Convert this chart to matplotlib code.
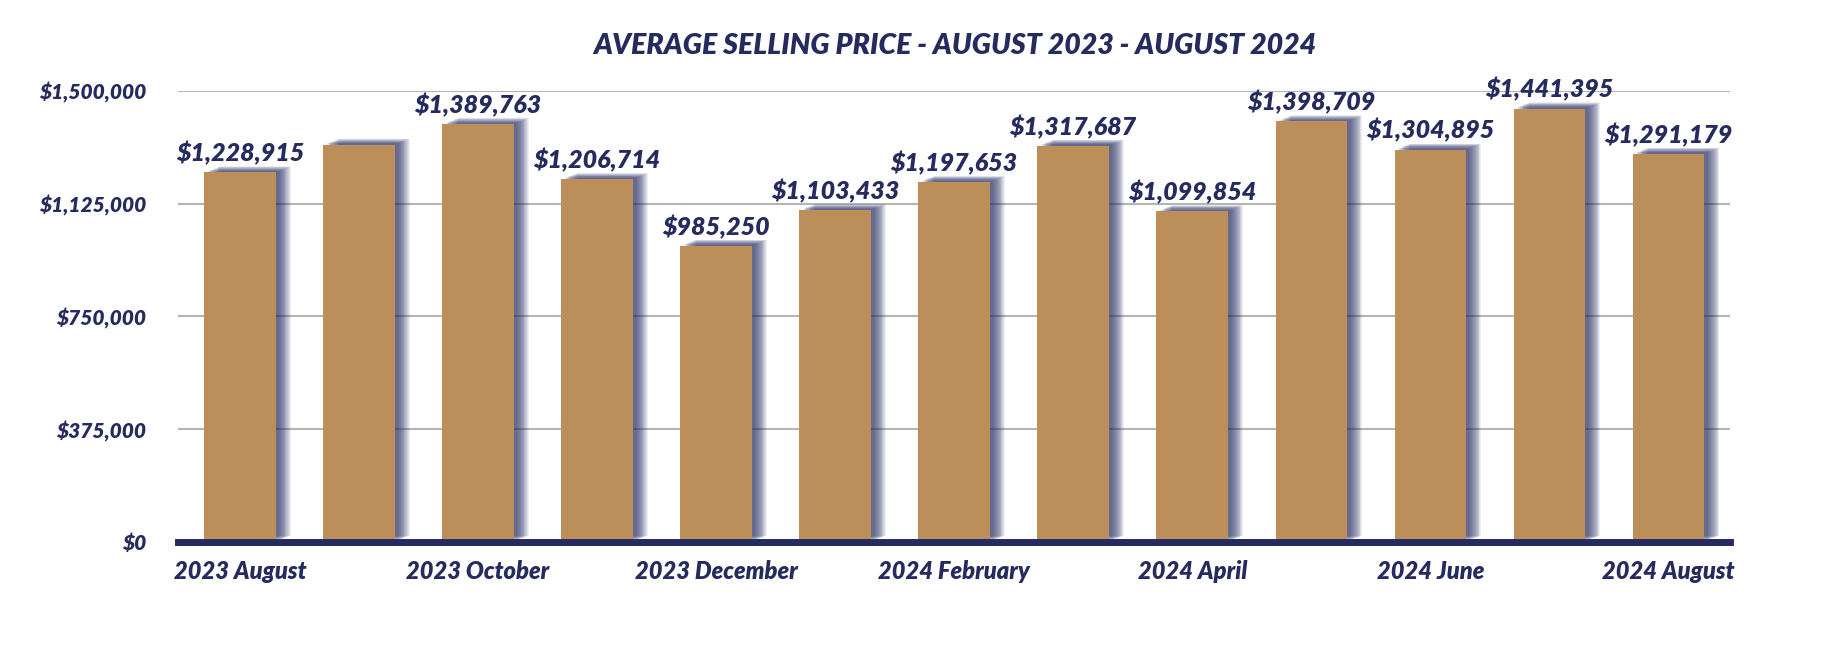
import numpy as np
import matplotlib
matplotlib.use("Agg")
import matplotlib.pyplot as plt
import matplotlib.patheffects as pe
from matplotlib.ticker import FuncFormatter

months = ["2023 August", "2023 September", "2023 October", "2023 November",
          "2023 December", "2024 January", "2024 February", "2024 March",
          "2024 April", "2024 May", "2024 June", "2024 July", "2024 August"]
prices = [1228915, 1321000, 1389763, 1206714, 985250, 1103433, 1197653,
          1317687, 1099854, 1398709, 1304895, 1441395, 1291179]
show_label = [True, False, True, True, True, True, True,
              True, True, True, True, True, True]
yticks = [0, 375000, 750000, 1125000, 1500000]

NAVY = "#262B5F"
GOLD = "#BB8E5A"
FONT = ["Lato", "DejaVu Sans"]

fig = plt.figure(figsize=(18.24, 6.72), dpi=100)
ax = fig.add_axes([0.0976, 0.1935, 0.851, 0.6711])

x = np.arange(len(months))

# soft shadow: stacked offset copies with low alpha
shadow = [pe.SimplePatchShadow(offset=(d, d * 0.4), shadow_rgbFace=NAVY, alpha=0.08, rho=1)
          for d in np.linspace(11, 2.5, 14)]
bars = ax.bar(x, prices, width=0.6, color=GOLD, linewidth=0, zorder=3,
              path_effects=shadow + [pe.Normal()])

for xi, v, s in zip(x, prices, show_label):
    if s:
        ax.annotate("${:,.0f}".format(v), (xi, v), xytext=(0, 5), textcoords="offset points",
                    ha="center", va="bottom", fontsize=18, color=NAVY,
                    family=FONT, fontweight="heavy", fontstyle="italic", zorder=5)

ax.set_xlim(-0.52, 12.52)
ax.set_ylim(0, 1500000)
ax.set_yticks(yticks)
ax.yaxis.set_major_formatter(FuncFormatter(lambda v, p: "${:,.0f}".format(v)))
ax.set_xticks(x[::2])
ax.set_xticklabels(months[::2])
ax.tick_params(length=0, pad=13, labelcolor=NAVY)
ax.tick_params(axis="y", pad=23)
for lab in ax.get_yticklabels():
    lab.set_fontsize(15)
for lab in ax.get_xticklabels():
    lab.set_fontsize(17)
for lab in ax.get_xticklabels() + ax.get_yticklabels():
    lab.set_family(FONT)
    lab.set_fontweight("heavy")
    lab.set_fontstyle("italic")

ax.grid(axis="y", color="#B5B5B5", linewidth=1.5, zorder=0)
for side in ["top", "right", "left"]:
    ax.spines[side].set_visible(False)
ax.spines["bottom"].set_color(NAVY)
ax.spines["bottom"].set_linewidth(5)
ax.spines["bottom"].set_zorder(4)

fig.text(0.5236, 0.931, "AVERAGE SELLING PRICE - AUGUST 2023 - AUGUST 2024",
         ha="center", va="center", fontsize=20.5, color=NAVY,
         family=FONT, fontweight="heavy", fontstyle="italic")

fig.savefig("out.png", dpi=100, facecolor="white")
